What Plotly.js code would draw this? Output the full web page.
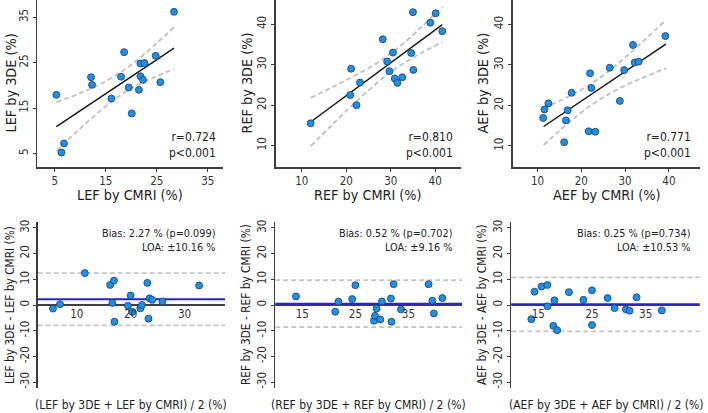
<!DOCTYPE html>
<html>
<head>
<meta charset="utf-8">
<script src="https://cdn.plot.ly/plotly-3.0.1.min.js"></script>
<style>html,body{margin:0;padding:0;background:#fff;}#chart{width:708px;height:413px;}</style>
</head>
<body>
<div id="chart"></div>
<script>
// ---------- data ----------
const lefCmri = [28.4,18.6,24.8,21.8,22.6,12.1,18.0,21.8,22.3,12.3,25.7,19.5,21.5,5.3,16.1,20.1,6.8,6.3];
const lef3de  = [36.2,27.3,26.5,24.8,24.9,21.8,21.9,22.0,21.2,20.1,20.7,19.5,19.0,17.9,17.1,13.8,7.2,5.2];
const refCmri = [35.0,40.1,38.9,41.6,28.2,30.5,34.6,29.2,21.1,29.7,35.1,30.9,32.6,31.5,23.1,20.9,22.3,12.0];
const ref3de  = [43.0,42.7,40.4,38.3,36.3,33.0,32.9,30.8,29.0,28.4,28.7,26.6,26.9,25.5,25.6,22.5,20.0,15.5];
const aefCmri = [39.2,31.8,32.2,33.1,26.5,29.8,22.0,22.3,17.8,28.8,12.5,11.6,16.9,11.3,16.5,21.7,23.2,16.1];
const aef3de  = [37.1,34.9,30.6,30.8,29.3,28.7,27.9,24.3,23.1,21.1,20.5,19.0,18.8,16.9,16.3,13.6,13.5,10.9];

// regression lines and confidence bands
const lefFitX = [5.3, 28.4], lefFitY = [10.9, 28.2];
const refFitX = [12.0, 41.6], refFitY = [15.84, 39.9];
const aefFitX = [11.4, 39.3], aefFitY = [14.8, 35.1];
const lefCiX = [5.3, 10, 15, 20, 25, 28.4];
const lefCiUp = [16.3, 18.3, 20.9, 24.5, 29.3, 32.8];
const lefCiLo = [5.5, 10.5, 15.4, 19.3, 22.0, 23.6];
const refCiX = [12, 17, 22, 27, 30, 33, 37, 41.6];
const refCiUp = [21.8, 24.5, 27.35, 30.45, 32.8, 35.4, 39.4, 44.2];
const refCiLo = [9.85, 15.3, 20.65, 25.55, 28.2, 30.4, 33.0, 35.6];
const aefCiX = [11.4, 15, 19, 23, 27, 31, 35, 39.3];
const aefCiUp = [19.4, 21.1, 23.25, 25.86, 29.08, 32.78, 36.71, 41.05];
const aefCiLo = [10.2, 13.7, 17.4, 20.6, 23.2, 25.4, 27.25, 29.15];

// Bland-Altman
const lefMean = [5.6,6.9,11.5,16.2,16.9,16.6,17.0,19.5,20.0,20.3,21.8,22.1,23.1,23.3,23.5,24.0,25.9,32.7];
const lefDiff = [-1.4,0.3,12.4,7.8,9.5,0.8,-6.5,-0.3,3.7,-2.7,-1.3,0.0,8.6,-5.3,2.6,2.0,1.4,7.6];
const refMean = [13.8,21.2,21.8,24.4,25.0,28.5,28.7,29.0,29.7,30.0,31.7,31.8,32.2,33.6,38.8,39.5,39.8,41.4];
const refDiff = [3.3,-2.6,1.3,2.3,7.7,-6.1,-4.2,-1.4,-5.6,1.4,2.5,-6.5,8.1,-1.7,8.1,1.7,-3.3,2.7];
const aefMean = [13.7,14.3,15.6,16.7,16.7,18.0,17.8,18.5,20.7,23.4,25.0,25.0,27.9,29.2,31.3,32.0,33.3,38.0];
const aefDiff = [-5.5,5.2,7.2,7.8,-0.5,1.8,-8.1,-9.8,5.0,2.0,5.7,-7.8,2.7,-1.2,-1.7,-2.2,3.0,-2.1];

const measures = ["LEF", "REF", "AEF"];
const rValues = ["0.724", "0.810", "0.771"];
const pValues = ["<0.001", "<0.001", "<0.001"];
const biasValues = [2.27, 0.52, 0.25];
const biasP = ["0.099", "0.702", "0.734"];
const loaValues = [10.16, 9.16, 10.53];
const diffTickVals = [-30, -20, -10, 0, 10, 20, 30];
const diffTickText = ["-30", "-20", "-10", "0", "10", "20", "30"];

// ---------- drawing ----------
const FONT = "DejaVu Sans Condensed, DejaVu Sans, sans-serif";
const marker = {size: 7, color: "#1f8fe5", line: {color: "#1d3f63", width: 0.8}};
const ciLine = {color: "#c4c4c4", width: 2, dash: "5px,3px", shape: "spline"};

const scat = [
  {x: lefCmri, y: lef3de, fx: lefFitX, fy: lefFitY, cx: lefCiX, cu: lefCiUp, cl: lefCiLo},
  {x: refCmri, y: ref3de, fx: refFitX, fy: refFitY, cx: refCiX, cu: refCiUp, cl: refCiLo},
  {x: aefCmri, y: aef3de, fx: aefFitX, fy: aefFitY, cx: aefCiX, cu: aefCiUp, cl: aefCiLo}
];
const ba = [
  {x: lefMean, y: lefDiff},
  {x: refMean, y: refDiff},
  {x: aefMean, y: aefDiff}
];

const traces = [];
scat.forEach((s, i) => {
  const xa = "x" + (i === 0 ? "" : i + 1), ya = "y" + (i === 0 ? "" : i + 1);
  traces.push({type: "scatter", mode: "lines", x: s.cx, y: s.cu, xaxis: xa, yaxis: ya, line: ciLine, hoverinfo: "skip"});
  traces.push({type: "scatter", mode: "lines", x: s.cx, y: s.cl, xaxis: xa, yaxis: ya, line: ciLine, hoverinfo: "skip"});
  traces.push({type: "scatter", mode: "lines", x: s.fx, y: s.fy, xaxis: xa, yaxis: ya, line: {color: "#111", width: 1.4}});
  traces.push({type: "scatter", mode: "markers", x: s.x, y: s.y, xaxis: xa, yaxis: ya, marker: marker, cliponaxis: false});
});
ba.forEach((b, i) => {
  traces.push({type: "scatter", mode: "markers", x: b.x, y: b.y, xaxis: "x" + (i + 4), yaxis: "y" + (i + 4), marker: marker, cliponaxis: false});
});

// geometry (pixel based)
const W = 708, H = 413;
const fx = (a, b) => [a / W, b / W];
const fy = (top, bot) => [1 - bot / H, 1 - top / H];
const topX = [fx(37, 223), fx(275.5, 461), fx(512.5, 700)];
const topY = fy(0, 167);
const botX = [fx(37.7, 225), fx(275.3, 462), fx(511.3, 699.7)];
const botY = fy(221.7, 388.3);
const topXRange = [[1.5, 38], [4.1, 45.8], [4.3, 47.1]];
const topYRange = [[2, 38.8], [4.7, 46], [4.8, 46]];
const topTicks = [[5, 15, 25, 35], [10, 20, 30, 40], [10, 20, 30, 40]];
const botXRange = [[2.76, 37.5], [9.9, 45.1], [9.97, 45.06]];
const botXTicks = [[10, 20, 30], [15, 25, 35], [15, 25, 35]];

const axisBase = {
  showgrid: false, zeroline: false, showline: true, linecolor: "#3c3c3c", linewidth: 1.5,
  ticks: "outside", ticklen: 3, tickcolor: "#3c3c3c", tickwidth: 1,
  tickfont: {family: FONT, size: 11.5, color: "#333"}, fixedrange: true
};

const layout = {
  width: W, height: H, margin: {l: 0, r: 0, t: 0, b: 0},
  paper_bgcolor: "#fff", plot_bgcolor: "rgba(0,0,0,0)", showlegend: false,
  font: {family: FONT, color: "#222"},
  annotations: [], shapes: []
};

for (let i = 0; i < 3; i++) {
  const k = i === 0 ? "" : String(i + 1);
  layout["xaxis" + k] = Object.assign({}, axisBase, {
    domain: topX[i], range: topXRange[i], tickvals: topTicks[i], anchor: "y" + k
  });
  layout["yaxis" + k] = Object.assign({}, axisBase, {
    domain: topY, range: topYRange[i], tickvals: topTicks[i], tickangle: -90, anchor: "x" + k
  });
  // bottom row
  const j = String(i + 4);
  const mid = (botY[0] + botY[1]) / 2;
  layout["xaxis" + j] = Object.assign({}, axisBase, {
    domain: botX[i], range: botXRange[i], tickvals: botXTicks[i], anchor: "free", position: mid,
    showline: false, ticks: "", tickfont: {family: FONT, size: 11.5, color: "#333"}
  });
  layout["yaxis" + j] = Object.assign({}, axisBase, {
    domain: botY, range: [-32.4, 32.4], tickvals: diffTickVals, ticktext: diffTickText, tickangle: -90,
    anchor: "x" + j
  });

  const m = measures[i];
  // axis titles
  layout.annotations.push({text: m + " by CMRI (%)", xref: "x" + k + " domain", x: 0.5, yref: "paper", y: 1 - 195 / H,
    showarrow: false, xanchor: "center", yanchor: "middle", font: {family: FONT, size: 14.3, color: "#222"}});
  layout.annotations.push({text: m + " by 3DE (%)", xref: "paper", x: [10, 246, 482][i] / W, yref: "y" + k + " domain", y: 0.5,
    showarrow: false, textangle: -90, xanchor: "center", yanchor: "middle", font: {family: FONT, size: 14.3, color: "#222"}});
  layout.annotations.push({text: "(" + m + " by 3DE + " + m + " by CMRI) / 2 (%)", xref: "x" + j + " domain", x: 0.5, yref: "paper", y: 1 - 405 / H,
    showarrow: false, xanchor: "center", yanchor: "middle", font: {family: FONT, size: 12, color: "#222"}});
  layout.annotations.push({text: m + " by 3DE - " + m + " by CMRI (%)", xref: "paper", x: [10, 246, 482][i] / W, yref: "y" + j + " domain", y: 0.5,
    showarrow: false, textangle: -90, xanchor: "center", yanchor: "middle", font: {family: FONT, size: 11.8, color: "#222"}});
  // statistics
  layout.annotations.push({text: "r=" + rValues[i] + "<br>p" + pValues[i].replace("<", "&lt;"), xref: "x" + k + " domain", x: [0.973, 0.966, 0.96][i],
    yref: "y" + k + " domain", y: 0.129, showarrow: false, xanchor: "right", yanchor: "middle", align: "right",
    font: {family: FONT, size: 12, color: "#222"}});
  layout.annotations.push({text: "Bias: " + biasValues[i].toFixed(2) + " % (p=" + biasP[i] + ")<br>LOA: \u00b1" + loaValues[i].toFixed(2) + " %",
    xref: "x" + j + " domain", x: [0.956, 0.959, 0.959][i], yref: "y" + j + " domain", y: 0.887, showarrow: false,
    xanchor: "right", yanchor: "middle", align: "right", font: {family: FONT, size: 10.8, color: "#222"}});
  // limits of agreement, zero line, bias (drawn in this order, beneath the points)
  const b = biasValues[i], l = loaValues[i];
  [b + l, b - l].forEach(v => layout.shapes.push({type: "line", xref: "x" + j + " domain", x0: 0, x1: 1, yref: "y" + j, y0: v, y1: v,
    line: {color: "#c4c4c4", width: 1.8, dash: "5px,3px"}, layer: "below"}));
  layout.shapes.push({type: "line", xref: "x" + j + " domain", x0: 0, x1: 1, yref: "y" + j, y0: 0, y1: 0,
    line: {color: "#000", width: 1.5}, layer: "below"});
  layout.shapes.push({type: "line", xref: "x" + j + " domain", x0: 0, x1: 1, yref: "y" + j, y0: b, y1: b,
    line: {color: "#2626c4", width: 2}, layer: "below"});
}

Plotly.newPlot("chart", traces, layout, {staticPlot: true, displayModeBar: false});
</script>
</body>
</html>
